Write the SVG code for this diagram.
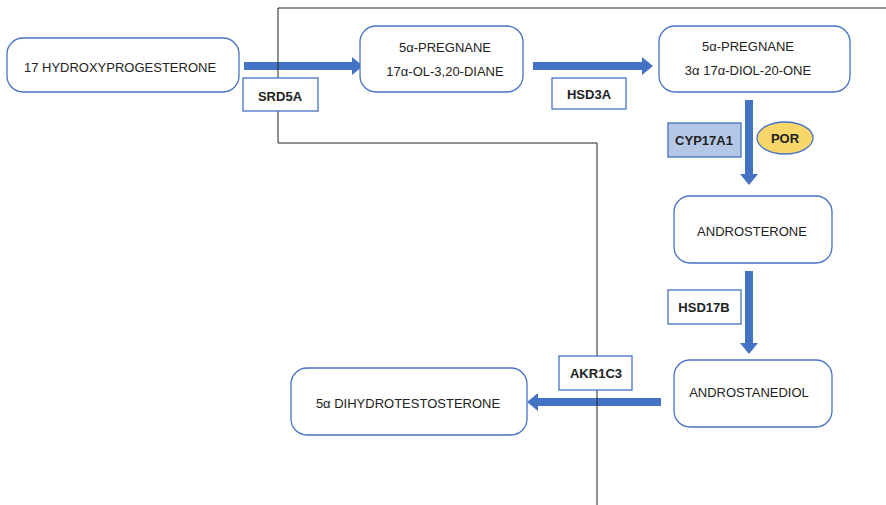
<svg xmlns="http://www.w3.org/2000/svg" width="886" height="505" viewBox="0 0 886 505">
<style>
.node{fill:#fff;stroke:#4472c4;stroke-width:1.3}
.t{font-family:"Liberation Sans",Arial,sans-serif;font-size:13px;fill:#222;text-anchor:middle;dominant-baseline:central}
.b{font-weight:bold}
.enz{fill:#fff;stroke:#4472c4;stroke-width:1.3}
.flow{fill:#4472c4}
.line{fill:none;stroke:#222;stroke-width:1}
</style>
<rect width="886" height="505" fill="#fff"/>
<g id="connectors">
<polygon class="flow" points="244,62 352,62 352,57 363,66 352,75 352,70 244,70"/>
<polygon class="flow" points="533,62 642,62 642,57 653,66 642,75 642,70 533,70"/>
<polygon class="flow" points="745,100 753,100 753,174 758,174 749,185 740,174 745,174"/>
<polygon class="flow" points="745,271 753,271 753,343 758,343 749,354 740,343 745,343"/>
<polygon class="flow" points="661,398 661,406 538,406 538,411 527,402 538,393 538,398"/>
<polyline class="line" points="886,8 278,8 278,143 597,143 597,505"/>
</g>
<g id="n1"><rect class="node" x="7" y="38" width="232" height="54" rx="16"/><text class="t" x="120" y="67">17 HYDROXYPROGESTERONE</text></g>
<g id="n2"><rect class="node" x="360" y="26" width="163" height="66" rx="16"/><text class="t" x="445" y="47">5α-PREGNANE</text><text class="t" x="445" y="71">17α-OL-3,20-DIANE</text></g>
<g id="n3"><rect class="node" x="659" y="26" width="191" height="66" rx="16"/><text class="t" x="748" y="46">5α-PREGNANE</text><text class="t" x="748" y="70">3α 17α-DIOL-20-ONE</text></g>
<g id="n4"><rect class="node" x="674" y="196" width="158" height="67" rx="16"/><text class="t" x="752" y="231">ANDROSTERONE</text></g>
<g id="n5"><rect class="node" x="674" y="360" width="158" height="67" rx="16"/><text class="t" x="749" y="392">ANDROSTANEDIOL</text></g>
<g id="n6"><rect class="node" x="291" y="368" width="236" height="67" rx="16"/><text class="t" x="408" y="403">5α DIHYDROTESTOSTERONE</text></g>
<g id="srd5a"><rect class="enz" x="243" y="78" width="75" height="33"/><text class="t b" x="280" y="96">SRD5A</text></g>
<g id="hsd3a"><rect class="enz" x="552" y="78" width="74" height="31"/><text class="t b" x="589" y="94">HSD3A</text></g>
<g id="cyp17a1"><rect x="668" y="123" width="73" height="34" fill="#b4c7e7" stroke="#4472c4" stroke-width="1.3"/><text class="t b" x="704" y="140">CYP17A1</text></g>
<g id="por"><ellipse cx="785" cy="138" rx="28" ry="16" fill="#f9d66a" stroke="#4472c4" stroke-width="1.3"/><text class="t b" x="785" y="138">POR</text></g>
<g id="hsd17b"><rect class="enz" x="668" y="290" width="73" height="34"/><text class="t b" x="704" y="307">HSD17B</text></g>
<g id="akr1c3"><rect class="enz" x="559" y="356" width="73" height="34"/><text class="t b" x="596" y="373">AKR1C3</text></g>
</svg>
